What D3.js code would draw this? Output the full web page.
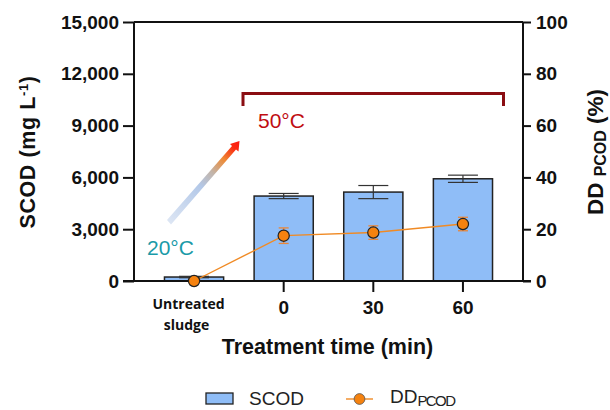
<!DOCTYPE html>
<html>
<head>
<meta charset="utf-8">
<script src="https://cdn.jsdelivr.net/npm/d3@7"></script>
<style>
html, body { margin: 0; padding: 0; background: #fff; }
svg { display: block; }
text { font-family: "Liberation Sans", Arial, sans-serif; fill: #111; }
.tick text { font-size: 19px; font-weight: bold; }
.title { font-size: 21.5px; font-weight: bold; }
</style>
</head>
<body>
<div id="chart"></div>
<script>
var categories = ["Untreated sludge", "0", "30", "60"];
var scod = [230, 4920, 5150, 5920];
var scodErr = [40, 150, 380, 210];
var dd = [0, 17.5, 18.7, 22];
var ddErr = [0, 3, 2.6, 2.6];
var leftTicks = [0, 3000, 6000, 9000, 12000, 15000];
var rightTicks = [0, 20, 40, 60, 80, 100];

var width = 610, height = 410;
var left = 134, right = 523, top_ = 22, bottom = 281;

var svg = d3.select("#chart").append("svg")
	.attr("width", width)
	.attr("height", height);

var defs = svg.append("defs");
var grad = defs.append("linearGradient")
	.attr("id", "temp")
	.attr("gradientUnits", "userSpaceOnUse")
	.attr("x1", 169).attr("y1", 223).attr("x2", 239).attr("y2", 141);
grad.append("stop").attr("offset", "0").attr("stop-color", "#dde6f4");
grad.append("stop").attr("offset", "0.45").attr("stop-color", "#b3c8e8");
grad.append("stop").attr("offset", "0.62").attr("stop-color", "#c3b4a8");
grad.append("stop").attr("offset", "0.78").attr("stop-color", "#ee8a35");
grad.append("stop").attr("offset", "0.92").attr("stop-color", "#fb2a10");
grad.append("stop").attr("offset", "1").attr("stop-color", "#fb1a10");

var x = d3.scaleBand().domain(categories).range([left, right]).paddingInner(0.34).paddingOuter(0.34);
var y = d3.scaleLinear().domain([0, 15000]).range([bottom, top_]);
var y2 = d3.scaleLinear().domain([0, 100]).range([bottom, top_]);

function cx(d) { return x(d) + x.bandwidth() / 2; }

// top frame line
svg.append("line")
	.attr("x1", left).attr("x2", right)
	.attr("y1", top_).attr("y2", top_)
	.attr("stroke", "#111").attr("stroke-width", 2);

// bars
svg.selectAll(".bar")
	.data(categories)
	.enter()
	.append("rect")
	.attr("class", "bar")
	.attr("x", function (d) { return x(d); })
	.attr("width", x.bandwidth())
	.attr("y", function (d, i) { return y(scod[i]); })
	.attr("height", function (d, i) { return bottom - y(scod[i]); })
	.attr("fill", "#8fbdf7")
	.attr("stroke", "#222")
	.attr("stroke-width", 1.5);

// bar error bars
var barErr = svg.selectAll(".barErr")
	.data(categories)
	.enter()
	.append("g")
	.attr("class", "barErr")
	.attr("stroke", "#333")
	.attr("stroke-width", 1.2);
barErr.append("line")
	.attr("x1", cx).attr("x2", cx)
	.attr("y1", function (d, i) { return y(scod[i] - scodErr[i]); })
	.attr("y2", function (d, i) { return y(scod[i] + scodErr[i]); });
[-1, 1].forEach(function (s) {
	barErr.append("line")
		.attr("x1", function (d) { return cx(d) - 15; })
		.attr("x2", function (d) { return cx(d) + 15; })
		.attr("y1", function (d, i) { return y(scod[i] + s * scodErr[i]); })
		.attr("y2", function (d, i) { return y(scod[i] + s * scodErr[i]); });
});

// axes
var axisLeft = svg.append("g")
	.attr("transform", "translate(" + left + ",0)")
	.call(d3.axisLeft(y).tickValues(leftTicks).tickFormat(d3.format(",")).tickSize(11).tickPadding(4));
var axisRight = svg.append("g")
	.attr("transform", "translate(" + right + ",0)")
	.call(d3.axisRight(y2).tickValues(rightTicks).tickSize(8).tickPadding(5));
var axisBottom = svg.append("g")
	.attr("transform", "translate(0," + bottom + ")")
	.call(d3.axisBottom(x).tickSize(11).tickPadding(7).tickFormat(function (d) { return d; }));
[axisLeft, axisRight, axisBottom].forEach(function (a) {
	a.selectAll("path,line").attr("stroke", "#111").attr("stroke-width", 2);
	a.select(".domain").attr("d", null);
});
axisLeft.append("line").attr("y1", top_).attr("y2", bottom).attr("stroke", "#111").attr("stroke-width", 2);
axisRight.append("line").attr("y1", top_).attr("y2", bottom).attr("stroke", "#111").attr("stroke-width", 2);
axisBottom.append("line").attr("x1", left - 11).attr("x2", right + 8).attr("stroke", "#111").attr("stroke-width", 2);

// first category sits on two lines with no tick
var first = axisBottom.selectAll(".tick").filter(function (d) { return d === categories[0]; });
first.select("line").remove();
var firstText = first.select("text").text(null)
	.style("font-family", "'Open Sans', sans-serif")
	.style("font-size", "14px")
	.attr("dy", null);
firstText.append("tspan").attr("x", -5.5).attr("y", 28).text("Untreated");
firstText.append("tspan").attr("x", -7.5).attr("y", 49).text("sludge");
axisBottom.selectAll(".tick").filter(function (d) { return d !== categories[0]; })
	.select("text").attr("y", 20);

// DD line
var line = d3.line()
	.x(function (d) { return cx(d); })
	.y(function (d, i) { return y2(dd[i]); });
svg.append("path")
	.datum(categories)
	.attr("d", line)
	.attr("fill", "none")
	.attr("stroke", "#f08a24")
	.attr("stroke-width", 1.4);

var ddErrG = svg.selectAll(".ddErr")
	.data(categories)
	.enter()
	.append("g")
	.attr("class", "ddErr")
	.attr("stroke", "#e8873a")
	.attr("stroke-width", 1.3);
ddErrG.append("line")
	.attr("x1", cx).attr("x2", cx)
	.attr("y1", function (d, i) { return y2(dd[i] - ddErr[i]); })
	.attr("y2", function (d, i) { return y2(dd[i] + ddErr[i]); });
[-1, 1].forEach(function (s) {
	ddErrG.append("line")
		.attr("x1", function (d) { return cx(d) - 5; })
		.attr("x2", function (d) { return cx(d) + 5; })
		.attr("y1", function (d, i) { return y2(dd[i] + s * ddErr[i]); })
		.attr("y2", function (d, i) { return y2(dd[i] + s * ddErr[i]); });
});

svg.selectAll(".pt")
	.data(categories)
	.enter()
	.append("circle")
	.attr("class", "pt")
	.attr("cx", cx)
	.attr("cy", function (d, i) { return y2(dd[i]); })
	.attr("r", 5.6)
	.attr("fill", "#f5820f")
	.attr("stroke", "#222")
	.attr("stroke-width", 1.2);

// bracket and temperature annotation
svg.append("path")
	.attr("d", "M243,106V93.5H503.5V106")
	.attr("fill", "none")
	.attr("stroke", "#8a0d12")
	.attr("stroke-width", 3);
svg.append("text")
	.attr("x", 258).attr("y", 128)
	.style("font-size", "21px")
	.style("fill", "#c00d12")
	.text("50°C");
svg.append("text")
	.attr("x", 147).attr("y", 255)
	.style("font-size", "21px")
	.style("fill", "#1a9aa8")
	.text("20°C");
svg.append("path")
	.attr("d", "M167,220L171,224.5L236,149.5L238.5,151.5L239.5,141L230,144L232,146Z")
	.attr("fill", "url(#temp)");

// axis titles
svg.append("text")
	.attr("class", "title")
	.attr("transform", "translate(35,152) rotate(-90)")
	.attr("text-anchor", "middle")
	.style("letter-spacing", "0.6px")
	.html('SCOD (mg L<tspan dy="-7" font-size="13">-1</tspan><tspan dy="7">)</tspan>');
svg.append("text")
	.attr("class", "title")
	.attr("transform", "translate(603,152) rotate(-90)")
	.attr("text-anchor", "middle")
	.style("font-size", "22.5px")
	.html('DD <tspan dy="3" font-size="16">PCOD</tspan><tspan dy="-3"> (%)</tspan>');
svg.append("text")
	.attr("class", "title")
	.attr("x", 327.5).attr("y", 354)
	.attr("text-anchor", "middle")
	.text("Treatment time (min)");

// legend
svg.append("rect")
	.attr("x", 206).attr("y", 393)
	.attr("width", 27).attr("height", 11)
	.attr("fill", "#8fbdf7").attr("stroke", "#222").attr("stroke-width", 1.3);
svg.append("text")
	.attr("x", 249).attr("y", 405)
	.style("font-size", "19px").style("fill", "#222")
	.text("SCOD");
svg.append("line")
	.attr("x1", 346).attr("x2", 373)
	.attr("y1", 399).attr("y2", 399)
	.attr("stroke", "#f08a24").attr("stroke-width", 1.4);
svg.append("circle")
	.attr("cx", 359.5).attr("cy", 399).attr("r", 5.4)
	.attr("fill", "#f5820f").attr("stroke", "#555").attr("stroke-width", 0.8);
svg.append("text")
	.attr("x", 390).attr("y", 403)
	.style("font-size", "19px").style("fill", "#222")
	.html('DD<tspan dy="3" font-size="15" letter-spacing="-1.6">PCOD</tspan>');
</script>
</body>
</html>
